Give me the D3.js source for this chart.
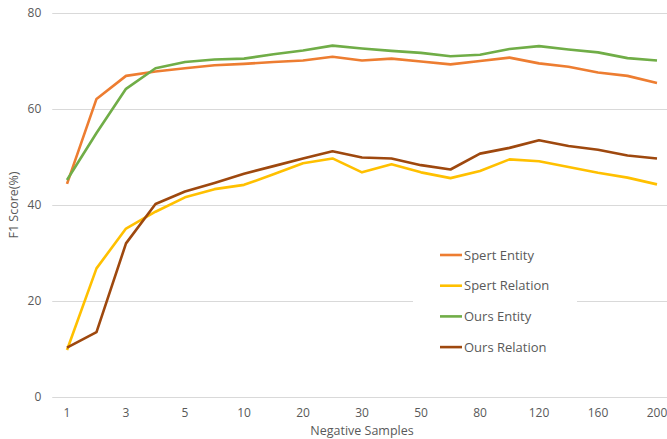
<!DOCTYPE html>
<html>
<head>
<meta charset="utf-8">
<script src="https://cdn.jsdelivr.net/npm/d3@7"></script>
<style>
  body { margin:0; background:#fff; }
  text { font-family:"Open Sans", "Liberation Sans", sans-serif; fill:#595959; }
</style>
</head>
<body>
<div id="chart"></div>
<script>
// Negative sample counts, only every other one is labelled on the axis.
var samples        = ["1","2","3","4","5","8","10","15","20","25","30","40","50","60","80","100","120","140","160","180","200"];
var tick_labels    = ["1","3","5","10","20","30","50","80","120","160","200"];
var y_ticks        = [0, 20, 40, 60, 80];

var spert_entity   = [44.4,62.1,66.9,67.8,68.5,69.1,69.4,69.8,70.1,70.9,70.1,70.5,69.9,69.3,70.0,70.7,69.5,68.8,67.6,66.9,65.4];
var spert_relation = [9.8,26.8,35.1,38.6,41.6,43.3,44.2,46.4,48.7,49.7,46.8,48.5,46.8,45.6,47.1,49.5,49.1,47.9,46.7,45.7,44.3];
var ours_entity    = [45.2,55.0,64.2,68.5,69.8,70.3,70.5,71.4,72.2,73.2,72.6,72.1,71.7,71.0,71.3,72.5,73.1,72.4,71.8,70.6,70.1];
var ours_relation  = [10.3,13.5,32.0,40.2,42.8,44.6,46.5,48.1,49.7,51.2,49.9,49.7,48.3,47.4,50.7,51.9,53.5,52.3,51.5,50.3,49.7];

var series_names   = ["Spert Entity","Spert Relation","Ours Entity","Ours Relation"];
var series_values  = [spert_entity, spert_relation, ours_entity, ours_relation];
var series_colors  = ["#ED7D31","#FFC000","#70AD47","#9E480E"];

var width  = 667;
var height = 439;
var plot   = { left:52.25, right:671.75, top:13, bottom:397 };

var svg = d3.select("#chart").append("svg")
  .attr("width", width)
  .attr("height", height);

var x = d3.scaleBand().domain(samples).range([plot.left, plot.right]);
var y = d3.scaleLinear().domain([0, 80]).range([plot.bottom, plot.top]);

// Horizontal grid lines with y labels.
var y_axis = svg.append("g")
  .attr("transform", "translate(" + plot.left + ",0)")
  .call(d3.axisLeft(y).tickValues(y_ticks).tickSize(-(plot.right - plot.left)).tickPadding(11));
y_axis.select(".domain").remove();
y_axis.selectAll("line").style("stroke", "#d9d9d9").style("stroke-width", 1);
y_axis.selectAll("text").style("font-size", "12px").style("fill", "#595959");

// Category axis: labels only, no ticks.
var x_axis = svg.append("g")
  .attr("transform", "translate(0," + plot.bottom + ")")
  .call(d3.axisBottom(x).tickValues(tick_labels).tickSize(0).tickPadding(11));
x_axis.select(".domain").remove();
x_axis.selectAll("text").style("font-size", "12px").style("fill", "#595959");

var line = d3.line()
  .x(function (d, i) { return x(samples[i]) + x.bandwidth()/2; })
  .y(function (d) { return y(d); });

for (var i = 0; i < series_values.length; i ++) {
  svg.append("path")
    .datum(series_values[i])
    .attr("d", line)
    .style("fill", "none")
    .style("stroke", series_colors[i])
    .style("stroke-width", 2.6)
    .style("stroke-linejoin", "round");
}

// Legend sits on a white box that hides the grid line behind it.
var legend = svg.append("g").attr("transform", "translate(413,236)");
legend.append("rect")
  .attr("width", 164)
  .attr("height", 128)
  .style("fill", "#fff");
for (var j = 0; j < series_names.length; j ++) {
  var row_y = 19 + j*30.7;
  legend.append("line")
    .attr("x1", 27).attr("x2", 49)
    .attr("y1", row_y).attr("y2", row_y)
    .style("stroke", series_colors[j])
    .style("stroke-width", 2.6);
  legend.append("text")
    .attr("x", 51)
    .attr("y", row_y)
    .attr("dy", "0.35em")
    .style("font-size", "13px")
    .text(series_names[j]);
}

svg.append("text")
  .attr("x", 362)
  .attr("y", 435)
  .attr("text-anchor", "middle")
  .style("font-size", "12.5px")
  .text("Negative Samples");

svg.append("text")
  .attr("transform", "translate(18,205) rotate(-90)")
  .attr("text-anchor", "middle")
  .style("font-size", "12.5px")
  .text("F1 Score(%)");
</script>
</body>
</html>
